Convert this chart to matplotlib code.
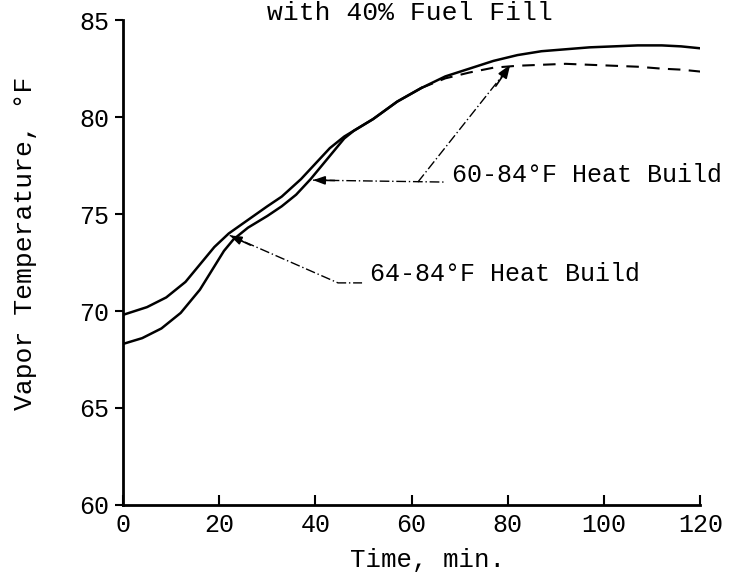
import matplotlib
matplotlib.use("Agg")
import matplotlib.pyplot as plt
import numpy as np

FONT = ["Liberation Mono", "DejaVu Sans Mono"]
plt.rcParams['font.family'] = FONT

# 64-84 F heat build (upper start, solid)
t_a = [0, 5, 9, 13, 16, 19, 22, 26, 30, 33, 37, 40, 43, 46, 48, 52, 57, 62, 67, 72,
       77, 82, 87, 92, 97, 102, 107, 112, 116, 120]
v_a = [69.8, 70.2, 70.7, 71.5, 72.4, 73.3, 74.0, 74.7, 75.4, 75.9, 76.8, 77.6, 78.4,
       79.0, 79.3, 79.9, 80.8, 81.5, 82.1, 82.5, 82.9, 83.2, 83.4, 83.5, 83.6, 83.65,
       83.7, 83.7, 83.65, 83.55]
# 60-84 F heat build (lower start, solid part)
t_b = [0, 4, 8, 12, 16, 19, 21, 23, 26, 30, 33, 36, 39, 42, 44, 46, 48, 52, 57, 62]
v_b = [68.3, 68.6, 69.1, 69.9, 71.1, 72.3, 73.1, 73.7, 74.3, 74.9, 75.4, 76.0, 76.8,
       77.7, 78.3, 78.9, 79.3, 79.9, 80.8, 81.5]
# 60-84 F heat build (dashed continuation)
t_b2 = [62, 67, 72, 77, 82, 87, 92, 97, 102, 107, 112, 116, 120]
v_b2 = [81.5, 82.0, 82.3, 82.55, 82.65, 82.7, 82.75, 82.7, 82.65, 82.6, 82.5, 82.45, 82.35]

xticks = [0, 20, 40, 60, 80, 100, 120]
yticks = [60, 65, 70, 75, 80, 85]
title = "with 40% Fuel Fill"
label_a = "64-84°F Heat Build"
label_b = "60-84°F Heat Build"

fig = plt.figure(figsize=(7.45, 5.77), dpi=100)
ax = fig.add_axes([0.165, 0.125, 0.775, 0.84])

ax.plot(t_a, v_a, color="black", lw=1.8)
ax.plot(t_b, v_b, color="black", lw=1.8)
ax.plot(t_b2, v_b2, color="black", lw=1.5, ls=(0, (6, 4)))

ax.set_xlim(0, 120)
ax.set_ylim(60, 85)
ax.set_xticks(xticks)
ax.set_yticks(yticks)
ax.spines['top'].set_visible(False)
ax.spines['right'].set_visible(False)
ax.spines['left'].set_linewidth(2)
ax.spines['bottom'].set_linewidth(2)
ax.tick_params(axis='x', direction='in', length=7, width=1.5, labelsize=18, pad=6)
ax.tick_params(axis='y', direction='out', length=6, width=1.5, labelsize=18, pad=4)
ax.set_xlabel("Time, min.", fontsize=18.5)
ax.xaxis.set_label_coords(0.527, -0.089)
ax.set_ylabel("Vapor Temperature, °F", fontsize=19)
ax.yaxis.set_label_coords(-0.149, 0.54)

fig.text(0.55, 1 - 13 / 577, title, fontsize=19, ha='center', va='center')

dd = (0, (7, 2, 1, 2))
lw_a = 1.0
# 60-84 annotations
ax.plot([39.5, 66.9], [76.75, 76.65], color="black", lw=lw_a, ls=dd)
ax.plot([61.3, 80.0], [76.65, 82.5], color="black", lw=lw_a, ls=dd)
ax.annotate("", xy=(39.5, 76.75), xytext=(44, 76.73),
            arrowprops=dict(arrowstyle="-|>,head_length=0.7,head_width=0.25",
                            color="black", lw=1.2, shrinkA=0, shrinkB=0))
ax.annotate("", xy=(80.5, 82.7), xytext=(77.5, 81.6),
            arrowprops=dict(arrowstyle="-|>,head_length=0.8,head_width=0.3",
                            color="black", lw=1.2, shrinkA=0, shrinkB=0))
ax.text(68.4, 77.0, label_b, fontsize=18, ha='left', va='center')

# 64-84 annotation
ax.plot([22.2, 44.7, 49.7], [73.9, 71.45, 71.45], color="black", lw=lw_a, ls=dd)
ax.annotate("", xy=(22.2, 73.9), xytext=(26.5, 73.4),
            arrowprops=dict(arrowstyle="-|>,head_length=0.7,head_width=0.25",
                            color="black", lw=1.2, shrinkA=0, shrinkB=0))
ax.text(51.4, 71.9, label_a, fontsize=18, ha='left', va='center')

fig.savefig("out.png", dpi=100)
